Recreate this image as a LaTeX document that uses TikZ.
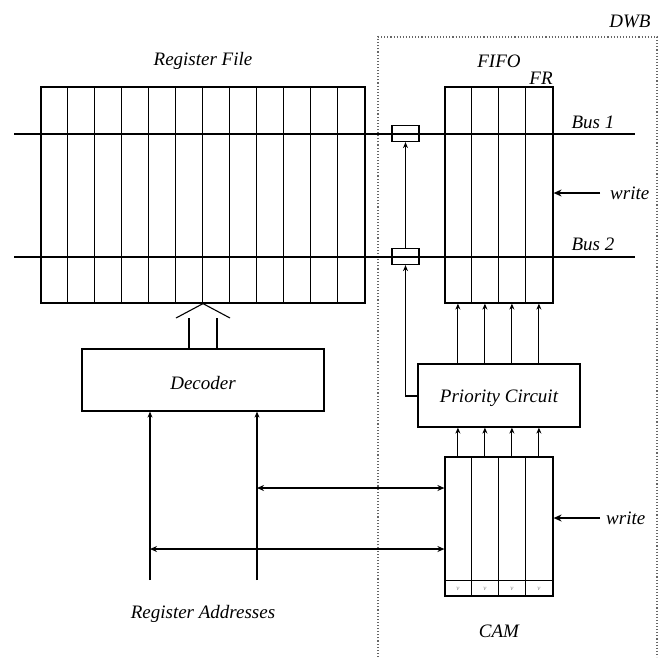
\documentclass[tikz,border=0pt]{standalone}
\usepackage{fontspec}
\setmainfont{Liberation Serif}
\usetikzlibrary{arrows.meta,calc}
\begin{document}
\begin{tikzpicture}[x=1pt,y=-1pt,
  lbl/.style={font=\fontsize{19}{21}\selectfont\itshape, inner sep=0pt},
  blk/.style={draw, line width=1.2pt, inner sep=0pt},
  cell/.style={line width=1pt},
  bus/.style={line width=2pt},
  sarrow/.style={line width=1.1pt, -{Stealth[length=6pt,width=5pt]}},
  barrow/.style={line width=1.9pt, {Stealth[length=7pt,width=6pt]}-{Stealth[length=7pt,width=6pt]}},
  warrow/.style={line width=2.3pt, -{Stealth[length=8pt,width=7pt]}},
  dwb/.style={dotted, line width=1.1pt, gray!80!black}]
\useasboundingbox (0,0) rectangle (666,657);

% DWB dotted box
\draw[dwb] (378,657) -- (378,37) -- (657,37) -- (657,657);
\node[lbl] (dwbl) at (630,21) {DWB};

% Register file
\node[blk, minimum width=324pt, minimum height=216pt] (rf) at (203,195) {};
\foreach \i in {1,...,11} \draw[cell] ($(rf.north west)+(27*\i,0)$) -- ($(rf.south west)+(27*\i,0)$);
\node[lbl] (rfl) at (203,61) {Register File};

% FIFO
\node[blk, minimum width=108pt, minimum height=216pt] (fifo) at (499,195) {};
\foreach \i in {1,2,3} \draw[cell] ($(fifo.north west)+(27*\i,0)$) -- ($(fifo.south west)+(27*\i,0)$);
\node[lbl] (fifol) at (499,61) {FIFO};
\node[lbl] (frl) at (541,78) {FR};

% Bus lines
\coordinate (b1l) at (14,134); \coordinate (b1r) at (635,134);
\coordinate (b2l) at (14,257); \coordinate (b2r) at (635,257);
\draw[bus] (b1l) -- (b1r);
\draw[bus] (b2l) -- (b2r);
\node[lbl] (bus1) at (593,122) {Bus 1};
\node[lbl] (bus2) at (593,244) {Bus 2};

% mux boxes
\node[blk, minimum width=27pt, minimum height=16pt] (m1) at (405.5,133.5) {};
\node[blk, minimum width=27pt, minimum height=16pt] (m2) at (405.5,256.5) {};

% Priority circuit
\node[blk, minimum width=162pt, minimum height=63pt] (pc) at (499,395.5) {};
\node[lbl] (pcl) at ($(pc.center)+(0,2.5)$) {Priority Circuit};

% CAM
\node[blk, minimum width=108pt, minimum height=139pt] (cam) at (499,526.5) {};
\foreach \i in {1,2,3} \draw[cell] ($(cam.north west)+(27*\i,0)$) -- ($(cam.south west)+(27*\i,0)$);
\draw[cell] ($(cam.south west)+(0,-16)$) -- ($(cam.south east)+(0,-16)$);
\foreach \i in {0,1,2,3} \node[font=\fontsize{7}{8}\selectfont\itshape, text=gray, inner sep=0pt] (v\i) at ($(cam.south west)+(13.5+27*\i,-8)$) {v};
\node[lbl] (caml) at (499,631) {CAM};

% Decoder
\node[blk, minimum width=242pt, minimum height=62pt] (dec) at (203,380) {};
\node[lbl] (decl) at ($(dec.center)+(0,2.5)$) {Decoder};

% Decoder -> register file (hollow double arrow)
\draw[line width=1.1pt] (189,349) -- (189,318) (217,349) -- (217,318);
\draw[line width=1.1pt] (176,318) -- (rf.south) -- (230,318);

% Priority -> FIFO, CAM -> Priority
\foreach \i in {0,1,2,3} {
  \draw[sarrow] ($(pc.north west)+(40.5+27*\i,0)$) -- ($(fifo.south west)+(13.5+27*\i,0)$);
  \draw[sarrow] ($(cam.north west)+(13.5+27*\i,0)$) -- ($(pc.south west)+(40.5+27*\i,0)$);
}

% Priority -> mux2 -> mux1
\draw[sarrow] (pc.west |- 0,396) -| (m2.south);
\draw[sarrow] (m2.north) -- (m1.south);

% Register addresses
\coordinate (ra1) at (150,580); \coordinate (ra2) at (257,580);
\draw[sarrow, line width=1.7pt] (ra1) -- (ra1 |- dec.south);
\draw[sarrow, line width=1.7pt] (ra2) -- (ra2 |- dec.south);
\node[lbl] (ral) at (203,614) {Register Addresses};
\draw[barrow] (257,488) -- (cam.west |- 0,488);
\draw[barrow] (150,549) -- (cam.west |- 0,549);

% write arrows
\coordinate (w1) at (600,193); \coordinate (w2) at (600,518);
\draw[warrow] (w1) -- (fifo.east |- w1);
\draw[warrow] (w2) -- (cam.east |- w2);
\node[lbl, anchor=west] (wl1) at (610,193) {write};
\node[lbl, anchor=west] (wl2) at (606,518) {write};
\end{tikzpicture}
\end{document}
